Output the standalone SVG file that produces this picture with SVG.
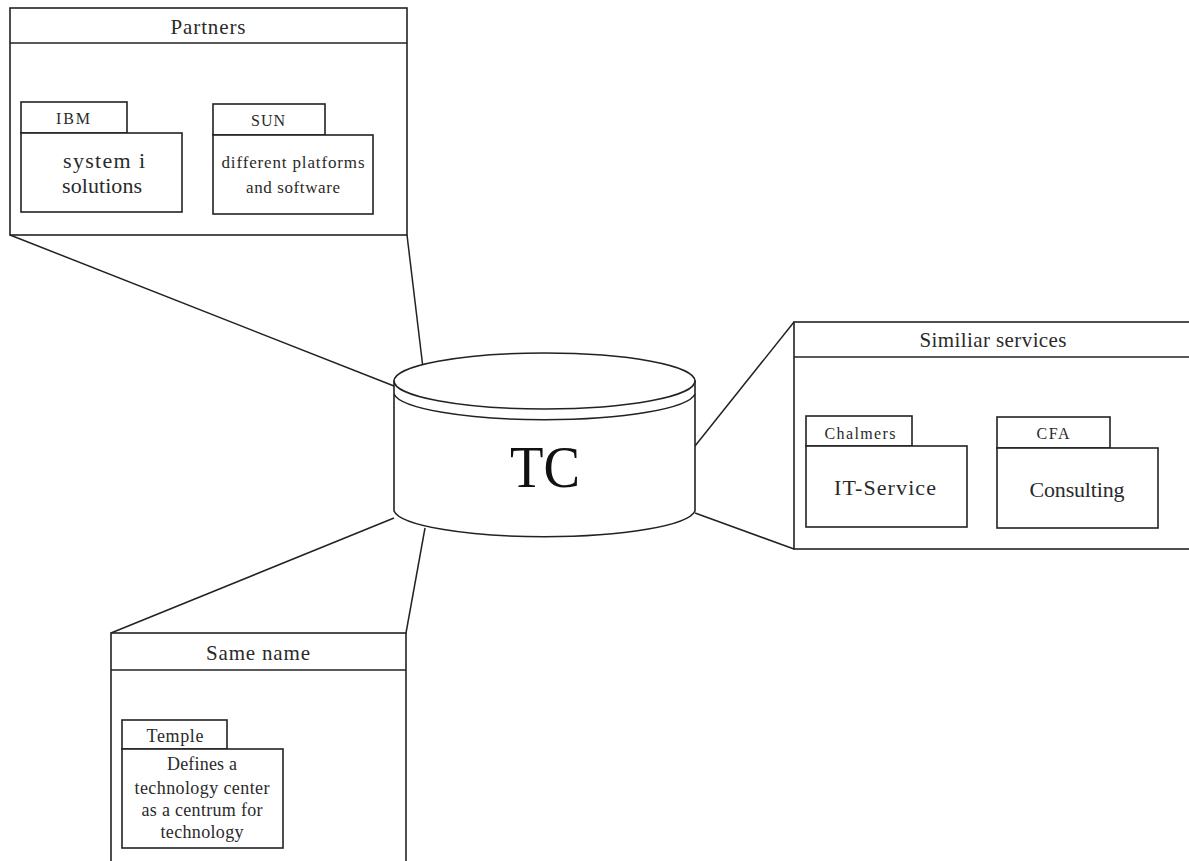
<svg xmlns="http://www.w3.org/2000/svg" width="1189" height="861" viewBox="0 0 1189 861">
<style>
.b{fill:#fff;stroke:#222;stroke-width:1.6}
.l{fill:none;stroke:#222;stroke-width:1.5}
text{font-family:"Liberation Serif","Times New Roman",serif;fill:#2a2a2a;text-anchor:middle}
.h{font-size:21px}
.t{font-size:16px}
.m{font-size:22px}
.s{font-size:17px}
.n{font-size:18px}
</style>
<rect width="1189" height="861" fill="#fff"/>
<g id="connectors">
<line class="l" x1="10" y1="235" x2="394" y2="386"/>
<line class="l" x1="407" y1="235" x2="423" y2="368"/>
<line class="l" x1="695" y1="446" x2="794" y2="322"/>
<line class="l" x1="695" y1="513" x2="794" y2="549"/>
<line class="l" x1="111" y1="633" x2="394" y2="518"/>
<line class="l" x1="406" y1="633" x2="425" y2="528"/>
</g>
<g id="tc">
<path class="b" d="M394,381 L394,511 A151,28 0 0 0 695,511 L695,381 Z"/>
<path class="l" d="M394,394 A151,28 0 0 0 695,394"/>
<ellipse class="b" cx="544.5" cy="381" rx="150.5" ry="28"/>
<text x="545" y="487" style="font-size:60px;fill:#111" textLength="70" lengthAdjust="spacingAndGlyphs">TC</text>
</g>
<g id="partners">
<rect class="b" x="10" y="8" width="397" height="227"/>
<line class="l" x1="10" y1="43" x2="407" y2="43"/>
<text class="h" x="208" y="34" textLength="75">Partners</text>
</g>
<g id="ibm">
<rect class="b" x="21" y="102" width="106" height="31"/>
<rect class="b" x="21" y="133" width="161" height="79"/>
<text class="t" x="73" y="124" textLength="34">IBM</text>
<text class="m" x="104" y="168" textLength="82">system i</text>
<text class="m" x="102" y="193" textLength="80">solutions</text>
</g>
<g id="sun">
<rect class="b" x="213" y="104" width="112" height="31"/>
<rect class="b" x="213" y="135" width="160" height="79"/>
<text class="t" x="268" y="126" textLength="34">SUN</text>
<text class="s" x="293" y="168" textLength="143">different platforms</text>
<text class="s" x="293" y="193" textLength="94">and software</text>
</g>
<g id="similiar">
<rect class="b" x="794" y="322" width="410" height="227"/>
<line class="l" x1="794" y1="357" x2="1189" y2="357"/>
<text class="h" x="993" y="347" textLength="147">Similiar services</text>
</g>
<g id="chalmers">
<rect class="b" x="806" y="416" width="106" height="30"/>
<rect class="b" x="806" y="446" width="161" height="81"/>
<text class="t" x="860" y="439" textLength="71">Chalmers</text>
<text class="m" x="885" y="495" textLength="102">IT-Service</text>
</g>
<g id="cfa">
<rect class="b" x="997" y="417" width="113" height="31"/>
<rect class="b" x="997" y="448" width="161" height="80"/>
<text class="t" x="1053" y="439" textLength="33">CFA</text>
<text class="m" x="1077" y="497" textLength="95">Consulting</text>
</g>
<g id="samename">
<rect class="b" x="111" y="633" width="295" height="240"/>
<line class="l" x1="111" y1="670" x2="406" y2="670"/>
<text class="h" x="258" y="660" textLength="104">Same name</text>
</g>
<g id="temple">
<rect class="b" x="122" y="720" width="105" height="29"/>
<rect class="b" x="122" y="749" width="161" height="99"/>
<text class="n" x="175" y="742" textLength="57">Temple</text>
<text class="n" x="202" y="770" textLength="70">Defines a</text>
<text class="n" x="202" y="794" textLength="135">technology center</text>
<text class="n" x="202" y="816" textLength="121">as a centrum for</text>
<text class="n" x="202" y="838" textLength="83">technology</text>
</g>
</svg>
